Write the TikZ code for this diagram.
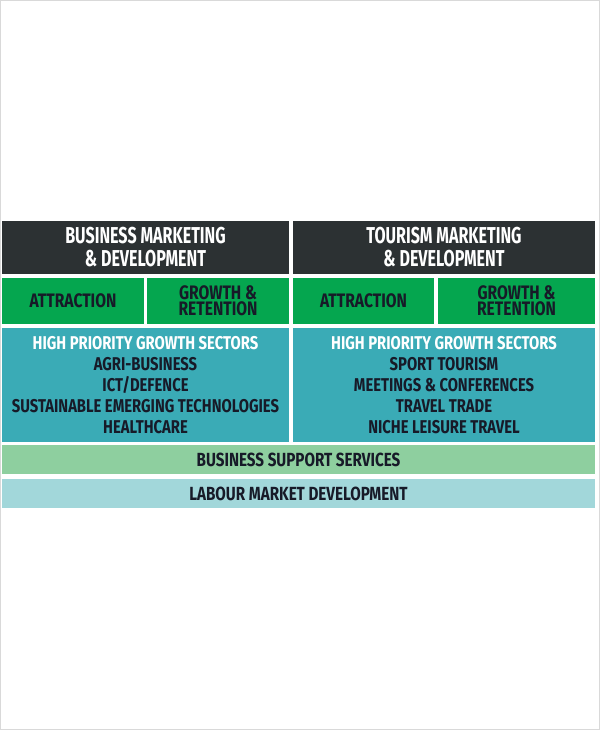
\documentclass[tikz,border=0pt]{standalone}
\usepackage{fontspec}
\usepackage{tikz}
\usepackage{xcolor}
\usetikzlibrary{positioning, calc}
\newfontfamily\condfont{Fira Sans}[FakeStretch=0.8]
\newfontfamily\narrowfont{Fira Sans}[FakeStretch=0.7]

\definecolor{headdark}{HTML}{2C3133}
\definecolor{cellgreen}{HTML}{05A64F}
\definecolor{cellteal}{HTML}{3AABB6}
\definecolor{barlgreen}{HTML}{8ECF9F}
\definecolor{barlteal}{HTML}{A2D7DA}
\definecolor{inkdark}{HTML}{171A28}

\tikzset{
    cell/.style={rectangle, inner sep=0pt, outer sep=0pt, align=center,
        font=\condfont\bfseries, text=inkdark},
    headcell/.style={cell, fill=headdark, text=white, minimum height=53pt,
        font=\narrowfont\bfseries\fontsize{23}{23}\selectfont},
    tabcell/.style={cell, fill=cellgreen, minimum height=46pt, minimum width=142pt,
        font=\condfont\bfseries\fontsize{19.5}{16}\selectfont},
    sectorcell/.style={cell, fill=cellteal, minimum height=114pt,
        font=\condfont\bfseries\fontsize{18.5}{21}\selectfont},
    barcell/.style={cell, minimum height=29pt, minimum width=593pt,
        font=\condfont\bfseries\fontsize{19}{21}\selectfont}
}

\begin{document}
\begin{tikzpicture}[x=1pt, y=-1pt]
% Frame of the page
\useasboundingbox (0,0) rectangle (600,730);
\draw[black!15, line width=1pt] (0.5,0.5) rectangle (599.5,729.5);

% Draw header row
\node[headcell, minimum width=287pt] (bizhead) at (145.5,247.5) {BUSINESS MARKETING\\\& DEVELOPMENT};
\node[headcell, minimum width=302pt] (tourhead) at (444,247.5) {TOURISM MARKETING\\\& DEVELOPMENT};

% Draw attraction / growth row
\node[tabcell] (bizattr) at (73,301) {ATTRACTION};
\node[tabcell] (bizgrow) at (218,301) {GROWTH \&\\RETENTION};
\node[tabcell, minimum width=141pt] (tourattr) at (363.5,301) {ATTRACTION};
\node[tabcell, minimum width=157pt] (tourgrow) at (516.5,301) {GROWTH \&\\RETENTION};

% Draw sector boxes
\node[sectorcell, minimum width=287pt] (bizsect) at (145.5,385)
    {\textcolor{white}{HIGH PRIORITY GROWTH SECTORS}\\AGRI-BUSINESS\\ICT/DEFENCE\\SUSTAINABLE EMERGING TECHNOLOGIES\\HEALTHCARE};
\node[sectorcell, minimum width=302pt] (toursect) at (444,385)
    {\textcolor{white}{HIGH PRIORITY GROWTH SECTORS}\\SPORT TOURISM\\MEETINGS \& CONFERENCES\\TRAVEL TRADE\\NICHE LEISURE TRAVEL};

% Draw full width bars
\node[barcell, fill=barlgreen] (support) at (298.5,459.5) {BUSINESS SUPPORT SERVICES};
\node[barcell, fill=barlteal] (labour) at (298.5,493.5) {LABOUR MARKET DEVELOPMENT};
\end{tikzpicture}
\end{document}
